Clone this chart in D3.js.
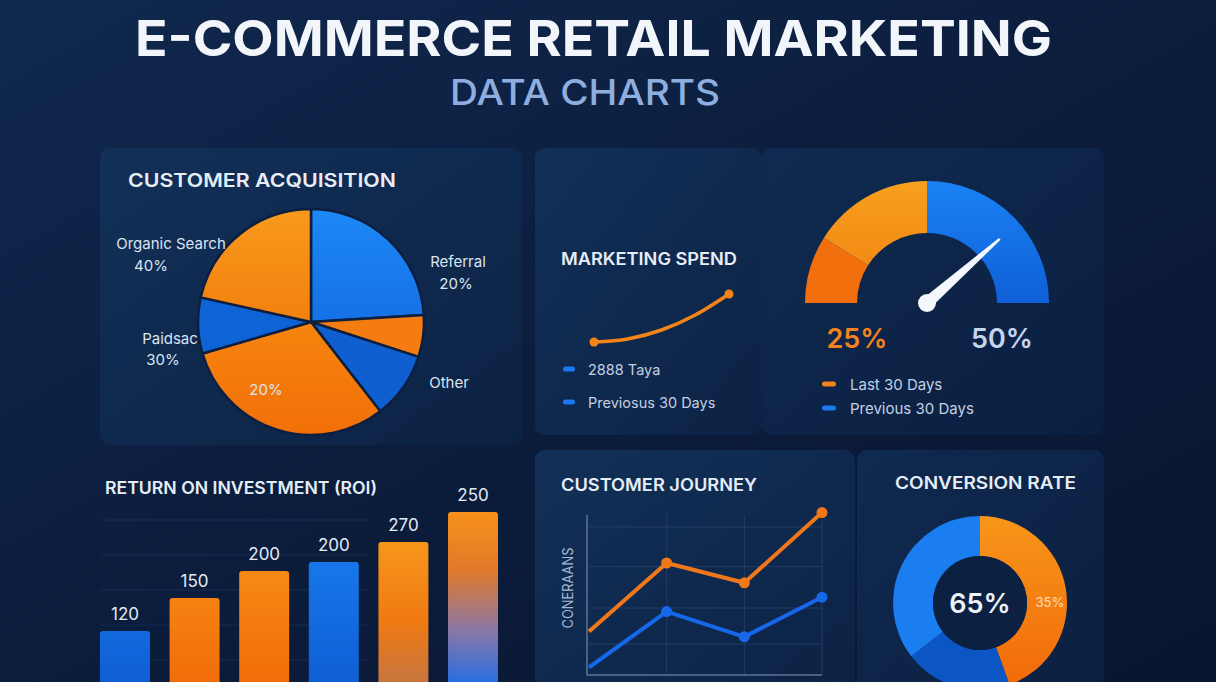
<!DOCTYPE html>
<html>
<head>
<meta charset="utf-8">
<script src="https://cdn.jsdelivr.net/npm/d3@7"></script>
<style>
  html, body { margin: 0; padding: 0; background: #0a1a36; }
  svg { display: block; }
  text { font-family: Inter, "Open Sans", sans-serif; }
</style>
</head>
<body>
<svg id="board" width="1216" height="682"></svg>
<script>
// ---- data ----
const acquisitionShares = [24, 6, 9.5, 31, 8, 21.5];
const acquisitionFills  = ["url(#gBlueA)", "#f47c10", "#0f5fd0", "url(#gOrangeB)", "#0e63d6", "url(#gOrangeA)"];

const spendSeries = [10, 11, 14, 19, 26];
const spendLegend = ["2888 Taya", "Previosus 30 Days"];

const gaugeSegments = [18, 32, 50];
const gaugeFills = ["#f26f0e", "url(#gGaugeOrange)", "url(#gGaugeBlue)"];
const gaugeNeedle = 77;
const gaugeLabels = ["25%", "50%"];
const gaugeLegend = ["Last 30 Days", "Previous 30 Days"];

const roiLabels = [120, 150, 200, 200, 270, 250];
const roiHeights = [129, 162, 189, 198, 218, 248];
const roiFills = ["url(#gBarBlue)", "url(#gBarOrange)", "url(#gBarOrange)", "url(#gBarBlue)", "url(#gBarOrangeFade)", "url(#gBarMix)"];
const roiGrid = [100, 135, 170, 205, 240];

const journeyOrange = [27, 65, 54, 93];
const journeyBlue = [7, 38, 24, 46];
const journeyGrid = [20, 40, 63, 85];

const conversionShares = [44.5, 20, 35.5];
const conversionFills = ["url(#gDonutOrange)", "#0b56c4", "#1a7ef0"];

const svg = d3.select('#board');
const defs = svg.append('defs');

function linear(id, stops, attrs) {
    const g = defs.append('linearGradient').attr('id', id);
    Object.entries(attrs || {x1: 0, y1: 0, x2: 0, y2: 1}).forEach(([k, v]) => g.attr(k, v));
    stops.forEach(([o, c]) => g.append('stop').attr('offset', o).attr('stop-color', c));
}

linear('gBg', [[0, '#10284e'], [0.55, '#0b1c3b'], [1, '#08152e']], {x1: 0, y1: 0, x2: 1, y2: 1});
linear('gPanel', [[0, '#123058'], [1, '#0c2244']], {x1: 0, y1: 0, x2: 1, y2: 1});
linear('gPanelDark', [[0, '#0f2a50'], [1, '#0b1f40']], {x1: 0, y1: 0, x2: 1, y2: 1});
linear('gBlueA', [[0, '#1e88f6'], [1, '#1470e6']]);
linear('gOrangeA', [[0, '#f89a1c'], [1, '#f2800e']]);
linear('gOrangeB', [[0, '#f6840e'], [1, '#f26f08']]);
linear('gGaugeOrange', [[0, '#f7a01e'], [1, '#f28a14']]);
linear('gGaugeBlue', [[0, '#1a82f6'], [1, '#0f5fd6']]);
linear('gDonutOrange', [[0, '#f7961a'], [1, '#f26a0a']]);
linear('gBarBlue', [[0, '#1b84f5'], [1, '#0f5ed4']], {x1: 0, y1: 500, x2: 0, y2: 682, gradientUnits: 'userSpaceOnUse'});
linear('gBarOrange', [[0, '#f99c1c'], [1, '#f26c08']], {x1: 0, y1: 500, x2: 0, y2: 682, gradientUnits: 'userSpaceOnUse'});
linear('gBarOrangeFade', [[0, '#f89a1c'], [0.6, '#f07a12'], [1, '#c7753f']], {x1: 0, y1: 530, x2: 0, y2: 682, gradientUnits: 'userSpaceOnUse'});
linear('gBarMix', [[0, '#f7921a'], [0.35, '#e07a2a'], [0.7, '#8a77a6'], [1, '#2a6ee0']], {x1: 0, y1: 510, x2: 0, y2: 682, gradientUnits: 'userSpaceOnUse'});

// ---- background and panels ----
svg.append('rect').attr('width', 1216).attr('height', 682).attr('fill', 'url(#gBg)');

const panels = [
    [100, 148, 422, 297, 'url(#gPanel)'],
    [535, 148, 227, 287, 'url(#gPanel)'],
    [762, 148, 342, 287, 'url(#gPanelDark)'],
    [535, 450, 320, 250, 'url(#gPanel)'],
    [857, 450, 247, 250, 'url(#gPanelDark)']
];
svg.append('g').selectAll('rect').data(panels).join('rect')
    .attr('x', d => d[0]).attr('y', d => d[1])
    .attr('width', d => d[2]).attr('height', d => d[3])
    .attr('rx', 10).attr('fill', d => d[4]);

// ---- titles ----
svg.append('text')
    .attr('x', 135).attr('y', 56)
    .attr('textLength', 917).attr('lengthAdjust', 'spacingAndGlyphs')
    .style('font', '700 50px Inter, sans-serif')
    .attr('fill', '#f2f5fa')
    .text('E-COMMERCE RETAIL MARKETING');

svg.append('text')
    .attr('x', 450).attr('y', 105)
    .attr('textLength', 270).attr('lengthAdjust', 'spacingAndGlyphs')
    .style('font', '500 36px Inter, sans-serif')
    .attr('fill', '#8eaee0')
    .text('DATA CHARTS');

const panelTitles = [
    ['CUSTOMER ACQUISITION', 128, 187, 268, 19],
    ['MARKETING SPEND', 561, 265, 176, 17],
    ['RETURN ON INVESTMENT (ROI)', 105, 494, 272, 17],
    ['CUSTOMER JOURNEY', 561, 491, 196, 17],
    ['CONVERSION RATE', 895, 489, 181, 17]
];
svg.append('g').selectAll('text').data(panelTitles).join('text')
    .attr('x', d => d[1]).attr('y', d => d[2])
    .attr('textLength', d => d[3]).attr('lengthAdjust', 'spacingAndGlyphs')
    .style('font', d => `600 ${d[4]}px Inter, sans-serif`)
    .attr('fill', '#e6edf7')
    .text(d => d[0]);

// ---- customer acquisition pie ----
const pie = d3.pie().sort(null).value(d => d);
const pieArc = d3.arc().innerRadius(0).outerRadius(113);
svg.append('g')
    .attr('transform', 'translate(311,322)')
    .selectAll('path').data(pie(acquisitionShares)).join('path')
    .attr('d', pieArc)
    .attr('fill', (d, i) => acquisitionFills[i])
    .attr('stroke', '#0c1f3f').attr('stroke-width', 2.5)
    .attr('stroke-linejoin', 'round');

const pieLabels = [
    ['Organic Search', 171, 243], ['40%', 151, 265],
    ['Referral', 458, 261], ['20%', 456, 283],
    ['Paidsac', 170, 338], ['30%', 163, 359],
    ['20%', 266, 389],
    ['Other', 449, 382]
];
svg.append('g').selectAll('text').data(pieLabels).join('text')
    .attr('x', d => d[1]).attr('y', d => d[2])
    .attr('text-anchor', 'middle').attr('dominant-baseline', 'central')
    .style('font', '400 15px Inter, sans-serif')
    .attr('fill', '#dbe4f1')
    .text(d => d[0]);

// ---- marketing spend ----
const sx = d3.scaleLinear([0, spendSeries.length - 1], [594, 729]);
const sy = d3.scaleLinear([10, 26], [342, 294]);
svg.append('path')
    .datum(spendSeries)
    .attr('d', d3.line((d, i) => sx(i), d => sy(d)).curve(d3.curveMonotoneX))
    .attr('fill', 'none').attr('stroke', '#f4831a').attr('stroke-width', 3.5)
    .attr('stroke-linecap', 'round');
svg.append('g').selectAll('circle')
    .data([0, spendSeries.length - 1]).join('circle')
    .attr('cx', i => sx(i)).attr('cy', i => sy(spendSeries[i]))
    .attr('r', 4.5).attr('fill', '#f4831a');

const spendLeg = svg.append('g').selectAll('g').data(spendLegend).join('g')
    .attr('transform', (d, i) => `translate(563,${369 + i * 33})`);
spendLeg.append('rect').attr('x', 0).attr('y', -2.5).attr('width', 12).attr('height', 5)
    .attr('rx', 2.5).attr('fill', '#1a78f0');
spendLeg.append('text').attr('x', 25).attr('dominant-baseline', 'central')
    .style('font', '400 14.5px Inter, sans-serif').attr('fill', '#c3d0e3')
    .text(d => d);

// ---- gauge ----
const gaugeAngle = d3.scaleLinear([0, 100], [-Math.PI / 2, Math.PI / 2]);
const gaugeArc = d3.arc().innerRadius(70).outerRadius(122);
const gauge = svg.append('g').attr('transform', 'translate(927,303)');
let acc = 0;
const gaugeData = gaugeSegments.map((v, i) => {
    const seg = {startAngle: gaugeAngle(acc), endAngle: gaugeAngle(acc + v), fill: gaugeFills[i]};
    acc += v;
    return seg;
});
gauge.selectAll('path').data(gaugeData).join('path')
    .attr('d', gaugeArc).attr('fill', d => d.fill);

const na = gaugeAngle(gaugeNeedle);
const nl = 97;
const tip = [nl * Math.sin(na), -nl * Math.cos(na)];
const perp = [Math.cos(na), Math.sin(na)];
gauge.append('path')
    .attr('d', d3.line()([
        [perp[0] * 6, perp[1] * 6],
        [tip[0] + perp[0] * 1.2, tip[1] + perp[1] * 1.2],
        [tip[0] - perp[0] * 1.2, tip[1] - perp[1] * 1.2],
        [-perp[0] * 6, -perp[1] * 6]
    ]) + 'Z')
    .attr('fill', '#f4f7fb');
gauge.append('circle').attr('r', 9).attr('fill', '#f4f7fb');

svg.append('g').selectAll('text').data(gaugeLabels).join('text')
    .attr('x', (d, i) => i ? 1002 : 857).attr('y', 338)
    .attr('text-anchor', 'middle').attr('dominant-baseline', 'central')
    .style('font', '600 27px Inter, sans-serif')
    .attr('fill', (d, i) => i ? '#c5d5ee' : '#f5821f')
    .text(d => d);

const gaugeLeg = svg.append('g').selectAll('g').data(gaugeLegend).join('g')
    .attr('transform', (d, i) => `translate(822,${384 + i * 24})`);
gaugeLeg.append('rect').attr('y', -2.5).attr('width', 14).attr('height', 5).attr('rx', 2.5)
    .attr('fill', (d, i) => i ? '#1a78f0' : '#f4831a');
gaugeLeg.append('text').attr('x', 28).attr('dominant-baseline', 'central')
    .style('font', '400 15px Inter, sans-serif').attr('fill', '#c3d0e3')
    .text(d => d);

// ---- ROI bars ----
const bx = d3.scaleBand().domain(d3.range(roiLabels.length)).range([100, 498]).paddingInner(0.282).paddingOuter(0);
const by = d3.scaleLinear([0, 300], [760, 460]);
svg.append('g').selectAll('line').data(roiGrid).join('line')
    .attr('x1', 100).attr('x2', 370)
    .attr('y1', d => by(d)).attr('y2', d => by(d))
    .attr('stroke', '#172d50').attr('stroke-width', 1);
svg.append('g').selectAll('rect').data(roiHeights).join('rect')
    .attr('x', (d, i) => bx(i)).attr('width', bx.bandwidth())
    .attr('y', d => by(d)).attr('height', d => by(0) - by(d))
    .attr('rx', 3)
    .attr('fill', (d, i) => roiFills[i]);
svg.append('g').selectAll('text').data(roiLabels).join('text')
    .attr('x', (d, i) => bx(i) + bx.bandwidth() / 2)
    .attr('y', (d, i) => by(roiHeights[i]) - 17)
    .attr('text-anchor', 'middle').attr('dominant-baseline', 'central')
    .style('font', '400 17px Inter, sans-serif').attr('fill', '#e3ebf5')
    .text(d => d);

// ---- customer journey ----
const jx = d3.scaleLinear([0, 3], [589, 822]);
const jy = d3.scaleLinear([0, 100], [680, 500]);
const jg = svg.append('g');
jg.selectAll('line.h').data(journeyGrid).join('line').attr('class', 'h')
    .attr('x1', 588).attr('x2', 822).attr('y1', d => jy(d)).attr('y2', d => jy(d))
    .attr('stroke', '#223c66').attr('stroke-width', 1);
jg.selectAll('line.v').data([1, 2, 3]).join('line').attr('class', 'v')
    .attr('x1', d => jx(d)).attr('x2', d => jx(d)).attr('y1', 515).attr('y2', 675)
    .attr('stroke', '#223c66').attr('stroke-width', 1);
jg.append('path').attr('d', 'M587,515V675H822')
    .attr('fill', 'none').attr('stroke', '#5d7499').attr('stroke-width', 1.5);
svg.append('text')
    .attr('transform', 'translate(567,588) rotate(-90)')
    .attr('text-anchor', 'middle').attr('dominant-baseline', 'central')
    .attr('textLength', 81).attr('lengthAdjust', 'spacingAndGlyphs')
    .style('font', '400 14px Inter, sans-serif').attr('fill', '#a9b8d0')
    .text('CONERAANS');

const jline = d3.line((d, i) => jx(i), d => jy(d));
[[journeyOrange, '#f0781a'], [journeyBlue, '#1667ea']].forEach(([series, color]) => {
    svg.append('path').datum(series).attr('d', jline)
        .attr('fill', 'none').attr('stroke', color).attr('stroke-width', 4)
        .attr('stroke-linejoin', 'round');
    svg.append('g').selectAll('circle').data(series.slice(1)).join('circle')
        .attr('cx', (d, i) => jx(i + 1)).attr('cy', d => jy(d))
        .attr('r', 5.5).attr('fill', color);
});

// ---- conversion donut ----
const donutArc = d3.arc().innerRadius(47).outerRadius(87);
const donut = svg.append('g').attr('transform', 'translate(980,603)');
donut.selectAll('path').data(pie(conversionShares)).join('path')
    .attr('d', donutArc)
    .attr('fill', (d, i) => conversionFills[i]);
donut.append('circle').attr('r', 47).attr('fill', '#0c2042');
donut.append('text')
    .attr('text-anchor', 'middle').attr('dominant-baseline', 'central')
    .style('font', '600 27px Inter, sans-serif').attr('fill', '#eef3fa')
    .text('65%');
donut.append('text')
    .attr('x', 70).attr('y', -1)
    .attr('text-anchor', 'middle').attr('dominant-baseline', 'central')
    .style('font', '500 13px Inter, sans-serif').attr('fill', '#ffd2a8')
    .text('35%');
</script>
</body>
</html>
